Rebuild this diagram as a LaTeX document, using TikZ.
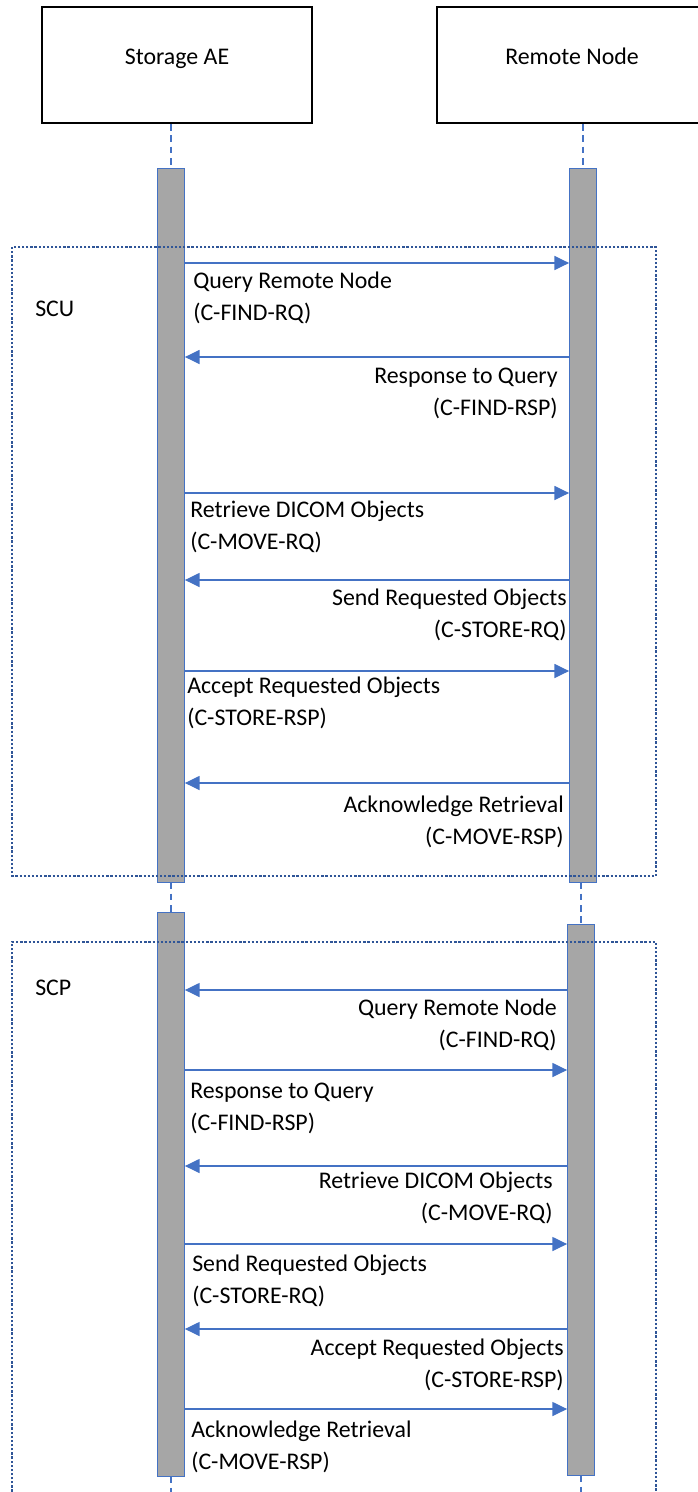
\documentclass[tikz,border=0pt]{standalone}
\usepackage{fontspec}
\setmainfont{Carlito}
\usetikzlibrary{arrows.meta}

\definecolor{msgblue}{HTML}{4472C4}
\definecolor{frameblue}{HTML}{2F5597}
\definecolor{bargray}{HTML}{A6A6A6}

\tikzset{
  actorbox/.style={draw=black,line width=1.5pt,minimum width=202.5pt,minimum height=87pt,inner sep=0pt},
  actbar/.style={draw=msgblue,fill=bargray,line width=0.6pt,minimum width=20.25pt,inner sep=0pt},
  lifeline/.style={draw=msgblue,line width=1.1pt,dash pattern=on 5pt off 3.5pt},
  msg/.style={draw=msgblue,line width=0.9pt,-{Triangle[length=11pt,width=10.5pt]}},
  grouping/.style={draw=frameblue,line width=1.9pt,dash pattern=on 1.7pt off 1.4pt},
  txt/.style={font=\fontsize{17.9pt}{24pt}\selectfont,inner sep=0pt}
}

\begin{document}
\begin{tikzpicture}[x=0.75pt,y=-0.75pt]
  \useasboundingbox (0,0) rectangle (698,1492);
  \clip (0,0) rectangle (698,1492);

% actors
  \node[actorbox] (storage) at (177,65) {};
  \node[txt,anchor=base] (storagelbl) at (177,64) {Storage AE};
  \node[actorbox] (remote) at (572,65) {};
  \node[txt,anchor=base] (remotelbl) at (572,64) {Remote Node};

% activation bars
  \node[actbar,minimum height=535.5pt] (bla) at (171,525) {};
  \node[actbar,minimum height=535.5pt] (bra) at (583,525) {};
  \node[actbar,minimum height=423pt] (blb) at (171,1194) {};
  \node[actbar,minimum height=413.25pt] (brb) at (581,1199.5) {};

% lifelines
  \draw[lifeline] (bla.north |- storage.south) -- (bla.north);
  \draw[lifeline] (bra.north |- remote.south) -- (bra.north);
  \draw[lifeline] (bla.south) -- (blb.north);
  \draw[lifeline] (brb.north |- bra.south) -- (brb.north);
  \draw[lifeline] (blb.south) -- (blb.south |- 0,1500);
  \draw[lifeline] (brb.south) -- (brb.south |- 0,1500);

% SCU part (text anchored at the baseline of its last line)
  \draw[grouping] (12,247) rectangle (656,876);
  \node[txt,anchor=base west] (scu) at (35,316) {SCU};
  \foreach \y/\t/\x/\lna/\lnb in {263/320/193/Query Remote Node/(C-FIND-RQ),
      493/549/190/Retrieve DICOM Objects/(C-MOVE-RQ),
      671/725/187/Accept Requested Objects/(C-STORE-RSP)}{
    \draw[msg] (bla.east |- 0,\y) -- (bra.west |- 0,\y);
    \node[txt,anchor=base west,align=left] (m\y) at (\x,\t) {\lna\\\lnb};
  }
  \foreach \y/\t/\x/\lna/\lnb in {357/415/558/Response to Query/(C-FIND-RSP),
      580/637/567/Send Requested Objects/(C-STORE-RQ),
      783/844/564/Acknowledge Retrieval/(C-MOVE-RSP)}{
    \draw[msg] (bra.west |- 0,\y) -- (bla.east |- 0,\y);
    \node[txt,anchor=base east,align=right] (m\y) at (\x,\t) {\lna\\\lnb};
  }

% SCP part
  \draw[grouping] (12,1500) |- (656,942) -- (656,1500);
  \node[txt,anchor=base west] (scp) at (35,995) {SCP};
  \foreach \y/\t/\x/\lna/\lnb in {1070/1130/190/Response to Query/(C-FIND-RSP),
      1244/1303/192/Send Requested Objects/(C-STORE-RQ),
      1409/1469/191/Acknowledge Retrieval/(C-MOVE-RSP)}{
    \draw[msg] (blb.east |- 0,\y) -- (brb.west |- 0,\y);
    \node[txt,anchor=base west,align=left] (m\y) at (\x,\t) {\lna\\\lnb};
  }
  \foreach \y/\t/\x/\lna/\lnb in {990/1047/557/Query Remote Node/(C-FIND-RQ),
      1166/1220/553/Retrieve DICOM Objects/(C-MOVE-RQ),
      1329/1387/564/Accept Requested Objects/(C-STORE-RSP)}{
    \draw[msg] (brb.west |- 0,\y) -- (blb.east |- 0,\y);
    \node[txt,anchor=base east,align=right] (m\y) at (\x,\t) {\lna\\\lnb};
  }

\end{tikzpicture}
\end{document}
